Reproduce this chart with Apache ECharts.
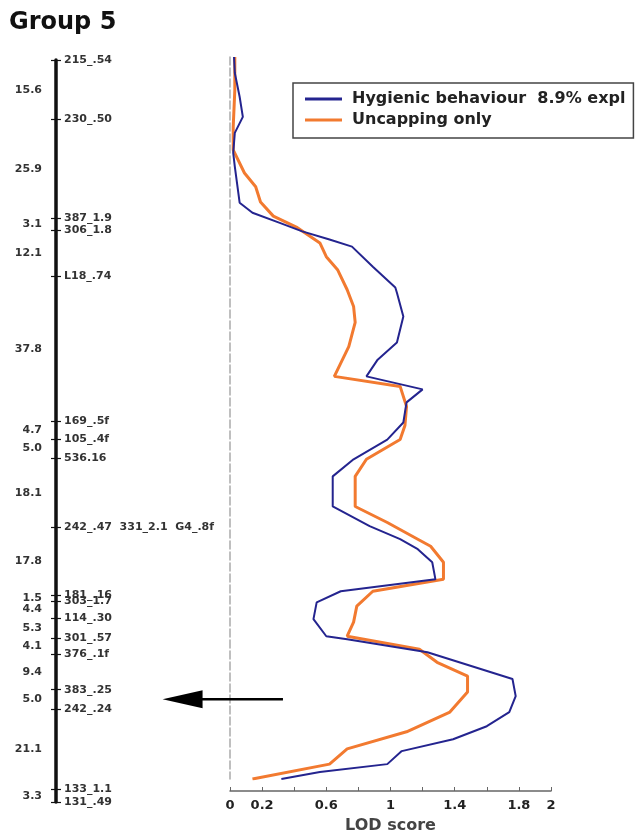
<!DOCTYPE html>
<html>
<head>
<meta charset="utf-8">
<title>Group 5</title>
<script src="https://cdn.jsdelivr.net/npm/echarts@6/dist/echarts.min.js"></script>
<style>
  html, body { margin: 0; padding: 0; background: #ffffff; }
  #chart { width: 635px; height: 839px; }
</style>
</head>
<body>
<div id="chart"></div>
<script>
// Linkage group 5: marker names (top to bottom) and the distances (cM) between them
const markerNames = ['215_.54', '230_.50', '387_1.9', '306_1.8', 'L18_.74', '169_.5f', '105_.4f',
  '536.16', '242_.47  331_2.1  G4_.8f', '181_.16', '303_1.7', '114_.30', '301_.57', '376_.1f',
  '383_.25', '242_.24', '133_1.1', '131_.49'];
const intervals = [15.6, 25.9, 3.1, 12.1, 37.8, 4.7, 5.0, 18.1, 17.8, 1.5, 4.4, 5.3, 4.1, 9.4, 5.0, 21.1, 3.3];

// LOD profile along the group: position (cM) and LOD score
const hygPos = [0, 4.3, 10.7, 16.1, 20.4, 25.8, 29.5, 39.2, 41.9, 44.6, 46.9, 49.1, 51.0, 56.4, 62.0,
  63.4, 69.8, 76.8, 81.4, 85.9, 89.4, 92.9, 98.3, 102.9, 108.2, 112.8, 120.9, 126.2, 129.7, 132.4,
  135.9, 140.5, 143.7, 146.7, 151.2, 155.8, 156.6, 160.1, 167.3, 171.9, 176.2, 180.0, 183.5, 186.7,
  190.2, 192.3, 194.2];
const hygLod = [0.025, 0.03, 0.06, 0.08, 0.03, 0.02, 0.03, 0.06, 0.14, 0.31, 0.45, 0.62, 0.76, 0.89, 1.03,
  1.04, 1.08, 1.04, 0.92, 0.85, 1.20, 1.10, 1.08, 0.98, 0.77, 0.64, 0.64, 0.87, 1.06, 1.17,
  1.26, 1.28, 0.69, 0.54, 0.52, 0.60, 0.73, 1.23, 1.76, 1.78, 1.74, 1.60, 1.39, 1.07,
  0.98, 0.56, 0.32];
const uncPos = [0, 8.9, 18.8, 25.0, 31.2, 34.9, 39.0, 42.8, 45.9, 50.0, 53.7, 57.2, 62.6, 67.1, 71.4,
  77.9, 85.9, 88.6, 94.0, 99.1, 102.9, 108.2, 112.8, 120.9, 125.2, 129.7, 131.6, 135.9, 140.5,
  143.7, 147.7, 152.0, 155.8, 159.3, 162.8, 166.5, 170.8, 176.2, 181.5, 186.1, 190.2, 194.2];
const uncLod = [0.03, 0.03, 0.02, 0.02, 0.09, 0.16, 0.19, 0.27, 0.42, 0.56, 0.60, 0.67, 0.73, 0.77, 0.78,
  0.74, 0.65, 1.06, 1.10, 1.09, 1.06, 0.85, 0.78, 0.78, 0.98, 1.17, 1.25, 1.33, 1.33,
  0.89, 0.79, 0.77, 0.73, 1.18, 1.29, 1.48, 1.48, 1.37, 1.10, 0.73, 0.62, 0.14];

// LOD axis ticks and the subset that carries labels
const lodTicks = [0, 0.2, 0.4, 0.6, 0.8, 1, 1.2, 1.4, 1.6, 1.8, 2];
const lodTickLabels = [0, 0.2, 0.6, 1, 1.4, 1.8, 2];

// Arrow marking the QTL region (map position in cM, LOD span of the shaft)
const arrowPos = 167.3;
const arrowFromLod = 0.33;
const arrowToLod = -0.42;

const seriesNames = ['Hygienic behaviour  8.9% expl', 'Uncapping only'];

// cumulative marker positions and interval midpoints
const r1 = v => Math.round(v * 10) / 10;
const markerPos = [0];
intervals.forEach(d => markerPos.push(r1(markerPos[markerPos.length - 1] + d)));
const mapLength = markerPos[markerPos.length - 1];
const intervalMid = intervals.map((d, i) => (markerPos[i] + markerPos[i + 1]) / 2);

const findIdx = (arr, v) => arr.findIndex(p => Math.abs(p - v) < 0.01);

const FONT = 'DejaVu Sans';
const chart = echarts.init(document.getElementById('chart'), null, { renderer: 'canvas' });

const mapTop = 60, mapHeight = 742;
const lodTop = 57, lodHeight = 723;

chart.setOption({
  backgroundColor: '#ffffff',
  animation: false,
  title: {
    text: 'Group 5',
    left: 9, top: 11, padding: 0,
    textStyle: { fontFamily: FONT, fontWeight: 'bold', fontSize: 24, color: '#111' }
  },
  legend: {
    data: seriesNames,
    orient: 'vertical',
    left: 293, top: 83,
    padding: [8, 8, 10, 12],
    itemGap: 5,
    itemWidth: 37,
    itemHeight: 3,
    icon: 'rect',
    borderColor: '#444',
    borderWidth: 1.5,
    textStyle: { fontFamily: FONT, fontWeight: 'bold', fontSize: 16, lineHeight: 16, color: '#222', padding: [0, 0, 0, 5] }
  },
  grid: [
    { left: 56, top: mapTop, width: 1, height: mapHeight },
    { left: 230, top: lodTop, width: 321, height: lodHeight }
  ],
  xAxis: [
    { gridIndex: 0, type: 'value', show: false, min: 0, max: 1 },
    {
      gridIndex: 1, type: 'value', min: 0, max: 2, interval: 0.2, offset: 12, position: 'bottom',
      name: 'LOD score', nameLocation: 'middle', nameGap: 27,
      nameTextStyle: { fontFamily: FONT, fontWeight: 'bold', fontSize: 16, color: '#444' },
      axisLine: { onZero: false, lineStyle: { color: '#666', width: 1.5 } },
      axisTick: { inside: true, length: 4, customValues: lodTicks, lineStyle: { color: '#666', width: 1 } },
      axisLabel: {
        customValues: lodTickLabels, margin: 8,
        fontFamily: FONT, fontWeight: 'bold', fontSize: 13, color: '#222',
        formatter: v => String(parseFloat(Number(v).toFixed(1)))
      },
      splitLine: { show: false }
    }
  ],
  yAxis: [
    { // linkage bar with interval distances on the left
      gridIndex: 0, type: 'value', inverse: true, min: 0, max: mapLength, position: 'left',
      axisLine: { onZero: false, lineStyle: { color: '#111', width: 3.5 } },
      axisTick: { customValues: markerPos, length: 5, lineStyle: { color: '#111', width: 1.2 } },
      axisLabel: {
        customValues: intervalMid, margin: 14,
        fontFamily: FONT, fontWeight: 'bold', fontSize: 11, color: '#333',
        formatter: v => { const i = findIdx(intervalMid, v); return i < 0 ? '' : intervals[i].toFixed(1); }
      },
      splitLine: { show: false }
    },
    { // marker names on the right of the bar
      gridIndex: 0, type: 'value', inverse: true, min: 0, max: mapLength, position: 'left',
      axisLine: { show: false, onZero: false },
      axisTick: { inside: true, customValues: markerPos, length: 5, lineStyle: { color: '#111', width: 1.2 } },
      axisLabel: {
        inside: true, customValues: markerPos, margin: 8,
        fontFamily: FONT, fontWeight: 'bold', fontSize: 11, color: '#333',
        formatter: v => { const i = findIdx(markerPos, v); return i < 0 ? '' : markerNames[i]; }
      },
      splitLine: { show: false }
    },
    { // LOD profile position axis (zero line)
      gridIndex: 1, type: 'value', inverse: true, min: 0, max: mapLength, position: 'left',
      axisLine: { onZero: false, lineStyle: { color: '#aaaaaa', width: 1.5, type: [8, 3] } },
      axisTick: { show: false },
      axisLabel: { show: false },
      splitLine: { show: false }
    }
  ],
  series: [
    {
      name: seriesNames[0], type: 'line', xAxisIndex: 1, yAxisIndex: 2,
      data: hygPos.map((p, i) => [hygLod[i], p]),
      symbol: 'none', z: 3,
      lineStyle: { color: '#24248f', width: 2 },
      itemStyle: { color: '#24248f' }
    },
    {
      name: seriesNames[1], type: 'line', xAxisIndex: 1, yAxisIndex: 2,
      data: uncPos.map((p, i) => [uncLod[i], p]),
      symbol: 'none', z: 2,
      lineStyle: { color: '#f27a30', width: 3 },
      itemStyle: { color: '#f27a30' }
    }
  ]
});

// Arrow marking the QTL region, placed through the axes' own scales
const ay = chart.convertToPixel({ yAxisIndex: 0 }, arrowPos);
const ax1 = chart.convertToPixel({ xAxisIndex: 1 }, arrowFromLod);
const ax0 = chart.convertToPixel({ xAxisIndex: 1 }, arrowToLod);
chart.setOption({
  graphic: [
    { type: 'line', shape: { x1: ax1, y1: ay, x2: ax0 + 38, y2: ay }, style: { stroke: '#000', lineWidth: 2.5 }, z: 10 },
    { type: 'polygon', shape: { points: [[ax0, ay], [ax0 + 40, ay - 9], [ax0 + 40, ay + 9]] }, style: { fill: '#000' }, z: 10 }
  ]
});
</script>
</body>
</html>
